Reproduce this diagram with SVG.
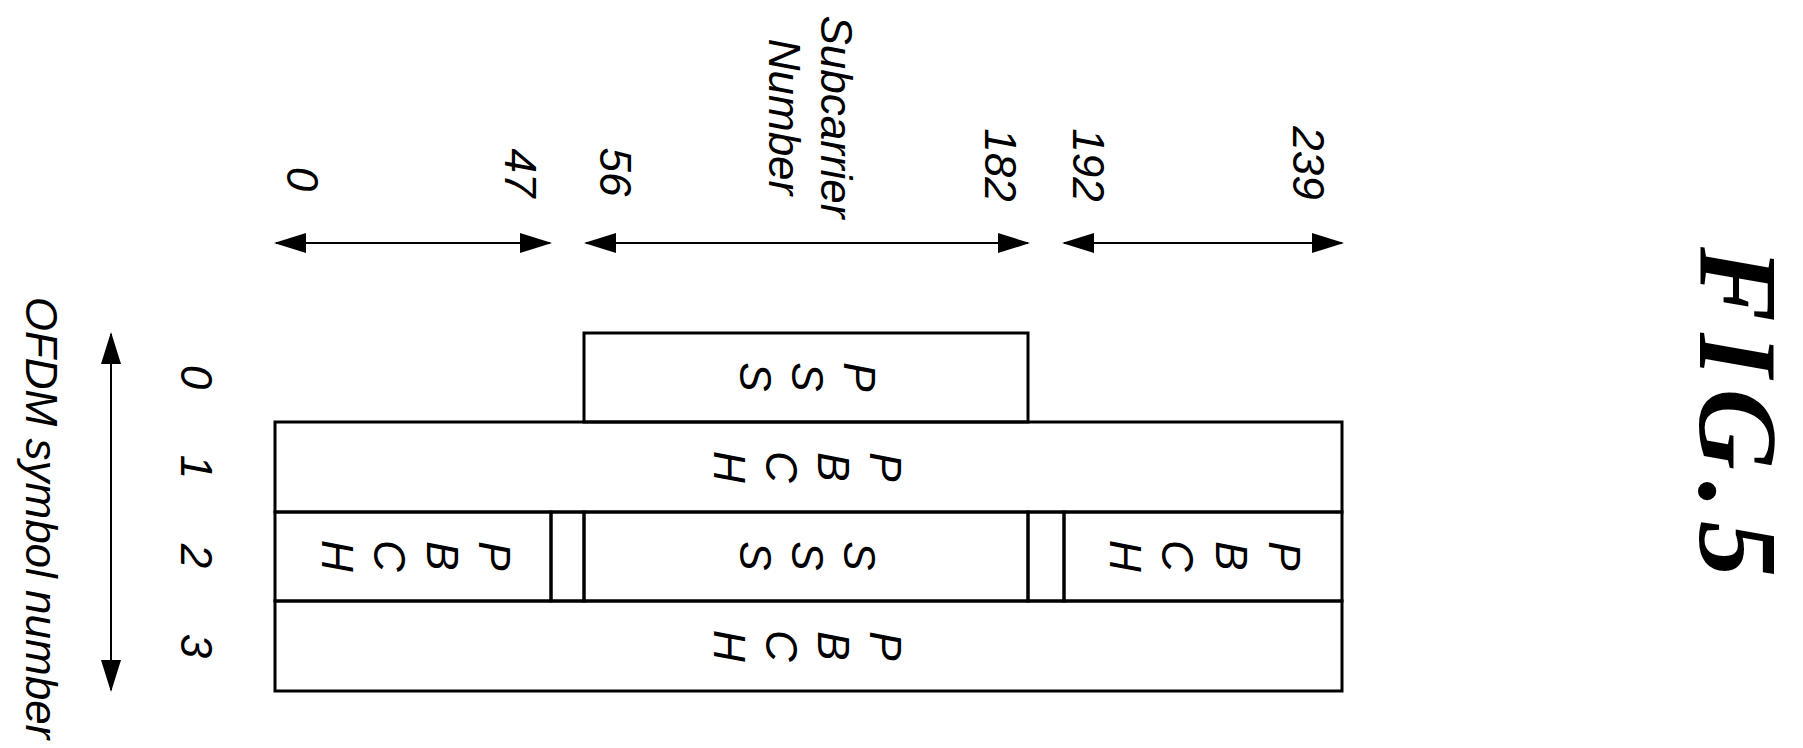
<svg xmlns="http://www.w3.org/2000/svg" width="1803" height="748" viewBox="0 0 1803 748">
<style>
.t{font-family:"Liberation Sans",Arial,sans-serif;font-style:italic;font-size:44px;fill:#000}
.c{text-anchor:middle}
.b{fill:none;stroke:#000;stroke-width:3}
.a{stroke:#000;stroke-width:2;fill:none}
</style>
<defs>
<marker id="ah" markerWidth="32" markerHeight="20" refX="30" refY="10" orient="auto-start-reverse" markerUnits="userSpaceOnUse">
<path d="M0,0 L32,10 L0,20 Z" fill="#000"/>
</marker>
</defs>
<rect width="1803" height="748" fill="#fff"/>
<g id="connectors">
<line class="a" x1="276" y1="243" x2="550" y2="243" marker-start="url(#ah)" marker-end="url(#ah)"/>
<line class="a" x1="586" y1="243" x2="1028" y2="243" marker-start="url(#ah)" marker-end="url(#ah)"/>
<line class="a" x1="1064" y1="243" x2="1342" y2="243" marker-start="url(#ah)" marker-end="url(#ah)"/>
<line class="a" x1="111" y1="334" x2="111" y2="690" marker-start="url(#ah)" marker-end="url(#ah)"/>
</g>
<g id="axis-labels" class="t c">
<text transform="translate(821,117) rotate(90)">Subcarrier</text>
<text transform="translate(769,117) rotate(90)">Number</text>
<text transform="translate(287,179) rotate(90)">0</text>
<text transform="translate(505,173) rotate(90)">47</text>
<text transform="translate(600,172) rotate(90)">56</text>
<text transform="translate(985,165) rotate(90)">182</text>
<text transform="translate(1073,165) rotate(90)">192</text>
<text transform="translate(1293,163) rotate(90)">239</text>
<text transform="translate(26,518) rotate(90)">OFDM symbol number</text>
<text transform="translate(181,377) rotate(90)">0</text>
<text transform="translate(181,467) rotate(90)">1</text>
<text transform="translate(181,556) rotate(90)">2</text>
<text transform="translate(181,646) rotate(90)">3</text>
</g>
<g id="pss">
<rect class="b" x="584" y="333" width="444" height="89"/>
<g class="t c"><text transform="translate(844,377) rotate(90)">P</text><text transform="translate(792,377) rotate(90)">S</text><text transform="translate(740,377) rotate(90)">S</text></g>
</g>
<g id="pbch1">
<rect class="b" x="275" y="422" width="1067" height="90"/>
<g class="t c"><text transform="translate(870,467) rotate(90)">P</text><text transform="translate(818,467) rotate(90)">B</text><text transform="translate(766,467) rotate(90)">C</text><text transform="translate(714,467) rotate(90)">H</text></g>
</g>
<g id="pbch2-left">
<rect class="b" x="275" y="512" width="276" height="89"/>
<g class="t c"><text transform="translate(479,556) rotate(90)">P</text><text transform="translate(427,556) rotate(90)">B</text><text transform="translate(374,556) rotate(90)">C</text><text transform="translate(322,556) rotate(90)">H</text></g>
</g>
<g id="sss">
<rect class="b" x="584" y="512" width="444" height="89"/>
<g class="t c"><text transform="translate(844,556) rotate(90)">S</text><text transform="translate(792,556) rotate(90)">S</text><text transform="translate(740,556) rotate(90)">S</text></g>
</g>
<g id="pbch2-right">
<rect class="b" x="1064" y="512" width="278" height="89"/>
<g class="t c"><text transform="translate(1269,556) rotate(90)">P</text><text transform="translate(1216,556) rotate(90)">B</text><text transform="translate(1162,556) rotate(90)">C</text><text transform="translate(1110,556) rotate(90)">H</text></g>
</g>
<g id="gaps">
<rect class="b" x="551" y="512" width="33" height="89" stroke-width="2"/>
<rect class="b" x="1028" y="512" width="36" height="89" stroke-width="2"/>
</g>
<g id="pbch3">
<rect class="b" x="275" y="601" width="1067" height="90"/>
<g class="t c"><text transform="translate(870,646) rotate(90)">P</text><text transform="translate(818,646) rotate(90)">B</text><text transform="translate(766,646) rotate(90)">C</text><text transform="translate(714,646) rotate(90)">H</text></g>
</g>
<g id="title">
<text transform="translate(1700,412) rotate(90)" text-anchor="middle" font-family="Liberation Serif,'Times New Roman',serif" font-style="italic" font-weight="bold" font-size="112" textLength="330" lengthAdjust="spacing">FIG.5</text>
</g>
</svg>
